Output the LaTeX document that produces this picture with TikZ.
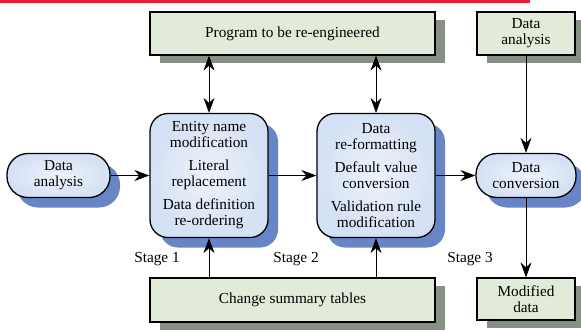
\documentclass[tikz,border=0pt]{standalone}
\usepackage{fontspec}
\setmainfont{Liberation Serif}
\usetikzlibrary{arrows.meta,shadows}
\definecolor{tableGreen}{RGB}{226,235,218}
\definecolor{tableShade}{RGB}{133,145,133}
\definecolor{stageBlue}{RGB}{212,225,244}
\definecolor{stageShade}{RGB}{104,133,200}
\definecolor{stripeRed}{RGB}{236,28,52}

\begin{document}
\begin{tikzpicture}[x=1bp,y=-1bp,
  font=\fontsize{15.3bp}{16bp}\selectfont,
  tbl/.style={rectangle,draw=black,line width=1.3bp,fill=tableGreen,
              general shadow={fill=tableShade,shadow xshift=10bp,shadow yshift=-8bp},
              align=center,inner sep=2bp},
  stg/.style={rectangle,draw=black,line width=1.3bp,rounded corners=18bp,
              inner color=stageBlue!40,outer color=stageBlue,
              general shadow={fill=stageShade,shadow xshift=10bp,shadow yshift=-10bp},
              minimum width=118bp,minimum height=124bp,align=center,inner sep=2bp},
  pill/.style={stg,rounded corners=21bp,minimum width=100bp,minimum height=44bp},
  arr/.style={-{Stealth[length=15bp,width=11bp,inset=5bp]},line width=0.8bp},
  dbl/.style={{Stealth[length=15bp,width=11bp,inset=5bp]}-{Stealth[length=15bp,width=11bp,inset=5bp]},line width=0.8bp}
]
  \useasboundingbox (0,0) rectangle (581,331);
  \fill[stripeRed] (0,0) rectangle (530,3);

  \node[tbl,minimum width=285bp,minimum height=43bp](prog) at (292.5,33.5) {Program to be re-engineered};
  \node[tbl,minimum width=98bp,minimum height=43bp](anaR) at (526,33.5) {Data\\analysis};
  \node[pill,minimum width=103bp](anaL) at (58.5,175.5) {Data\\analysis};
  \node[stg](st1) at (209,175.5) {Entity name\\modification\\[7bp]Literal\\replacement\\[7bp]Data definition\\re-ordering};
  \node[stg](st2) at (376,175.5) {Data\\re-formatting\\[7bp]Default value\\conversion\\[7bp]Validation rule\\modification};
  \node[pill](conv) at (526,175.5) {Data\\conversion};
  \node[tbl,minimum width=98bp,minimum height=42bp](mod) at (526,299) {Modified\\data};
  \node[tbl,minimum width=285bp,minimum height=44bp](chg) at (292.5,300) {Change summary tables};

  \node(s1) at (157,259) {Stage 1};
  \node(s2) at (296,259) {Stage 2};
  \node(s3) at (470,259) {Stage 3};

  \draw[arr](anaL)--(st1);
  \draw[arr](st1)--(st2);
  \draw[arr](st2)--(conv);
  \draw[dbl](st1.north |- prog.south)--(st1.north);
  \draw[dbl](st2.north |- prog.south)--(st2.north);
  \draw[arr](st1.south |- chg.north)--(st1.south);
  \draw[arr](st2.south |- chg.north)--(st2.south);
  \draw[arr](anaR)--(conv);
  \draw[arr](conv)--(mod);
\end{tikzpicture}
\end{document}
